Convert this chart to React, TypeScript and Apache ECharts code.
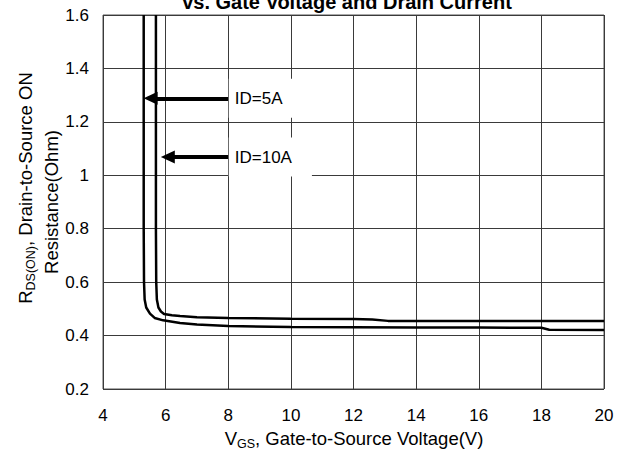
import React, { useEffect, useRef } from "react";
import * as echarts from "echarts";

// ID = 5A curve (Vgs, Rds(on))
const id5V = [5.3, 5.3, 5.31, 5.33, 5.38, 5.5, 5.65, 5.92, 6.46, 7.0, 8.0, 10, 12, 14, 16, 18.0, 18.25, 20];
const id5R = [1.6, 0.8, 0.6, 0.535, 0.505, 0.482, 0.466, 0.457, 0.447, 0.441, 0.436, 0.432, 0.431, 0.43, 0.43, 0.429, 0.422, 0.421];

// ID = 10A curve
const id10V = [5.69, 5.69, 5.7, 5.72, 5.77, 5.85, 5.95, 6.2, 6.46, 7.0, 8.0, 10, 12, 12.6, 13.1, 16, 20];
const id10R = [1.6, 0.8, 0.6, 0.535, 0.505, 0.49, 0.481, 0.476, 0.473, 0.469, 0.466, 0.463, 0.462, 0.46, 0.455, 0.455, 0.455];

const xMin = 4, xMax = 20, xStep = 2;
const yMin = 0.2, yMax = 1.6, yStep = 0.2;

const arrow5 = { from: [8, 1.288], to: [5.52, 1.288], label: "ID=5A" };
const arrow10 = { from: [8, 1.068], to: [6.07, 1.068], label: "ID=10A" };

const titleText = "vs. Gate Voltage and Drain Current";

const FONT = "Liberation Sans";

export default function App() {
  const ref = useRef<HTMLDivElement>(null);
  useEffect(() => {
    document.body.style.margin = "0";
    const chart = echarts.init(ref.current!, null, { renderer: "svg" });
    const zip = (xs: number[], ys: number[]) => xs.map((x, i) => [x, ys[i]]);
    const mkArrow = (a: any) => ({
      silent: true,
      symbol: ["none", "triangle"],
      symbolSize: [13, 14],
      animation: false,
      lineStyle: { color: "#000", width: 4, type: "solid" },
      label: { show: false },
      emphasis: { disabled: true },
      data: [[{ coord: a.from }, { coord: a.to }]],
    });
    const mkLabel = (a: any) => ({
      silent: true,
      symbol: "rect",
      symbolSize: 1,
      itemStyle: { color: "rgba(0,0,0,0)" },
      label: {
        show: true,
        position: "right",
        distance: 0,
        formatter: a.label,
        color: "#000",
        fontFamily: FONT,
        fontSize: 17,
        backgroundColor: "#fff",
        padding: [11, 20, 11, 6],
      },
      data: [{ coord: a.from }],
    });
    const subRich = {
      v: { fontSize: 18.5, fontFamily: FONT, color: "#000", lineHeight: 20, verticalAlign: "bottom" },
      s: { fontSize: 12.5, fontFamily: FONT, color: "#000", lineHeight: 20, verticalAlign: "bottom", padding: [0, 0, -2, 0] },
    };
    chart.setOption({
      animation: false,
      grid: {
        left: 103,
        right: 22,
        top: 15,
        bottom: 62,
        show: true,
        borderColor: "#555",
        borderWidth: 1,
      },
      xAxis: {
        type: "value",
        min: xMin,
        max: xMax,
        interval: xStep,
        axisLine: { show: false },
        axisTick: { show: false },
        splitLine: { show: true, lineStyle: { color: "#3a3a3a", width: 1 } },
        axisLabel: { color: "#000", fontSize: 17, fontFamily: FONT, margin: 18 },
      },
      yAxis: {
        type: "value",
        min: yMin,
        max: yMax,
        interval: yStep,
        axisLine: { show: false },
        axisTick: { show: false },
        splitLine: { show: true, lineStyle: { color: "#3a3a3a", width: 1 } },
        axisLabel: { color: "#000", fontSize: 17, fontFamily: FONT, margin: 14 },
      },
      series: [
        {
          name: "ID=5A",
          type: "line",
          data: zip(id5V, id5R),
          showSymbol: false,
          lineStyle: { color: "#000", width: 2.5 },
          markLine: mkArrow(arrow5),
          markPoint: mkLabel(arrow5),
        },
        {
          name: "ID=10A",
          type: "line",
          data: zip(id10V, id10R),
          showSymbol: false,
          lineStyle: { color: "#000", width: 2.5 },
          markLine: mkArrow(arrow10),
          markPoint: mkLabel(arrow10),
        },
      ],
      graphic: [
        {
          type: "text",
          x: 347,
          y: 12,
          style: {
            text: titleText,
            font: `bold 20px "${FONT}"`,
            fill: "#000",
            align: "center",
            verticalAlign: "bottom",
          },
        },
        {
          type: "text",
          x: 354,
          y: 438,
          style: {
            text: "{v|V}{s|GS}{v|, Gate-to-Source Voltage(V)}",
            align: "center",
            verticalAlign: "middle",
            fill: "#000",
            rich: subRich,
          },
        },
        {
          type: "text",
          x: 25,
          y: 188,
          rotation: Math.PI / 2,
          style: {
            text: "{v|R}{s|DS(ON)}{v|, Drain-to-Source ON}",
            align: "center",
            verticalAlign: "middle",
            fill: "#000",
            rich: subRich,
          },
        },
        {
          type: "text",
          x: 51,
          y: 202,
          rotation: Math.PI / 2,
          style: {
            text: "Resistance(Ohm)",
            font: `18.5px "${FONT}"`,
            fill: "#000",
            align: "center",
            verticalAlign: "middle",
          },
        },
      ],
    });
    return () => chart.dispose();
  }, []);
  return <div ref={ref} style={{ width: 626, height: 451 }} />;
}
